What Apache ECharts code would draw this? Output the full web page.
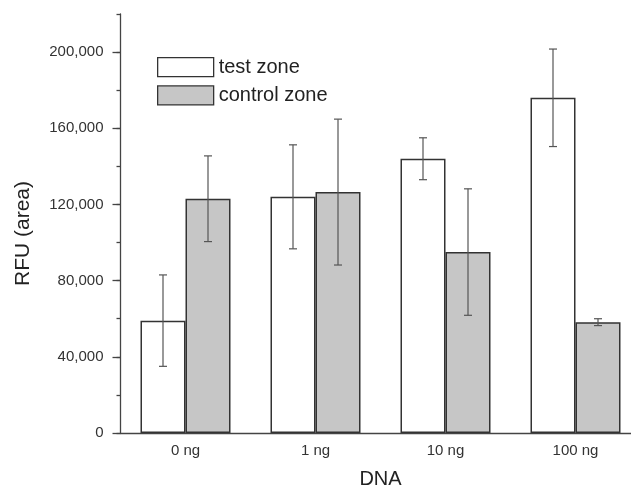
<!DOCTYPE html>
<html>
<head>
<meta charset="utf-8">
<script src="https://cdn.jsdelivr.net/npm/echarts@6/dist/echarts.min.js"></script>
<style>html,body{margin:0;padding:0;background:#fff;}#c{width:631px;height:489px;}</style>
</head>
<body>
<div id="c"></div>
<script>
var categories = ['0 ng', '1 ng', '10 ng', '100 ng'];
var testZone = [59000, 124000, 144000, 176000];
var controlZone = [123000, 126500, 95000, 58200];
var testErr = [24000, 27300, 11000, 25600];
var controlErr = [22500, 38300, 33200, 1800];
var yMax = 220000;
var yLabelMax = 200000;

var FONT = 'Liberation Sans, Arial, sans-serif';
var BAR_W = 45;
var gridTop = 14, gridBottom = 56, gridLeft = 120.5, gridWidth = 520;
var gridH = 489 - gridTop - gridBottom;
var labelTop = gridTop + gridH * (1 - yLabelMax / yMax);

function errSeries(name, vals, errs, offset) {
  return {
    type: 'custom',
    name: name + ' err',
    xAxisIndex: 0, yAxisIndex: 0,
    z: 10,
    data: vals.map(function (v, i) { return [i, v - errs[i], v + errs[i]]; }),
    renderItem: function (params, api) {
      var lo = api.coord([api.value(0), api.value(1)]);
      var hi = api.coord([api.value(0), api.value(2)]);
      var x = lo[0] + offset;
      var cap = 4;
      var st = { stroke: '#555', lineWidth: 1.2 };
      return {
        type: 'group',
        children: [
          { type: 'line', shape: { x1: x, y1: lo[1], x2: x, y2: hi[1] }, style: st },
          { type: 'line', shape: { x1: x - cap, y1: lo[1], x2: x + cap, y2: lo[1] }, style: st },
          { type: 'line', shape: { x1: x - cap, y1: hi[1], x2: x + cap, y2: hi[1] }, style: st }
        ]
      };
    },
    silent: true
  };
}

var chart = echarts.init(document.getElementById('c'), null, { renderer: 'canvas' });
chart.setOption({
  backgroundColor: '#fff',
  animation: false,
  legend: {
    orient: 'vertical',
    left: 157, top: 57, padding: 0,
    itemWidth: 56, itemHeight: 19, itemGap: 8,
    icon: 'rect',
    textStyle: { fontFamily: FONT, fontSize: 20, color: '#222', lineHeight: 19 },
    data: [
      { name: 'test zone', itemStyle: { color: '#fff', borderColor: '#333', borderWidth: 1.3 } },
      { name: 'control zone', itemStyle: { color: '#c6c6c6', borderColor: '#333', borderWidth: 1.3 } }
    ]
  },
  grid: [
    { left: gridLeft, top: gridTop, width: gridWidth, height: gridH, containLabel: false, outerBoundsMode: 'none' },
    { left: gridLeft, top: labelTop, width: gridWidth, bottom: gridBottom, containLabel: false, outerBoundsMode: 'none' }
  ],
  xAxis: [
    {
      gridIndex: 0, type: 'category', data: categories,
      axisLine: { lineStyle: { color: '#444', width: 1.3 } },
      axisTick: { show: false },
      axisLabel: { fontFamily: FONT, fontSize: 15, color: '#333', margin: 10 },
      name: 'DNA', nameLocation: 'middle', nameGap: 36,
      nameTextStyle: { fontFamily: FONT, fontSize: 20, color: '#222' }
    },
    { gridIndex: 1, type: 'category', data: categories, show: false }
  ],
  yAxis: [
    {
      gridIndex: 0, type: 'value', min: 0, max: yMax, interval: 20000,
      axisLine: { show: true, lineStyle: { color: '#444', width: 1.3 } },
      axisTick: { show: true, inside: false, length: 4, lineStyle: { color: '#444', width: 1.3 } },
      axisLabel: { show: false },
      splitLine: { show: false },
      name: 'RFU (area)', nameLocation: 'middle', nameGap: 87,
      nameTextStyle: { fontFamily: FONT, fontSize: 21, color: '#222', padding: [0, 20, 0, 0] }
    },
    {
      gridIndex: 1, type: 'value', min: 0, max: yLabelMax, interval: 40000,
      axisLine: { show: false },
      axisTick: { show: true, length: 8, lineStyle: { color: '#444', width: 1.3 } },
      axisLabel: {
        fontFamily: FONT, fontSize: 15, color: '#333', margin: 17,
        formatter: function (v) { return v.toLocaleString('en-US'); }
      },
      splitLine: { show: false }
    }
  ],
  series: [
    {
      name: 'test zone', type: 'bar', xAxisIndex: 0, yAxisIndex: 0,
      data: testZone, barWidth: BAR_W, barGap: '0%',
      itemStyle: { color: '#fff', borderColor: '#333', borderWidth: 1.5 }
    },
    {
      name: 'control zone', type: 'bar', xAxisIndex: 0, yAxisIndex: 0,
      data: controlZone, barWidth: BAR_W, barGap: '0%',
      itemStyle: { color: '#c6c6c6', borderColor: '#333', borderWidth: 1.5 }
    },
    errSeries('test zone', testZone, testErr, -BAR_W / 2),
    errSeries('control zone', controlZone, controlErr, BAR_W / 2)
  ]
});
</script>
</body>
</html>
